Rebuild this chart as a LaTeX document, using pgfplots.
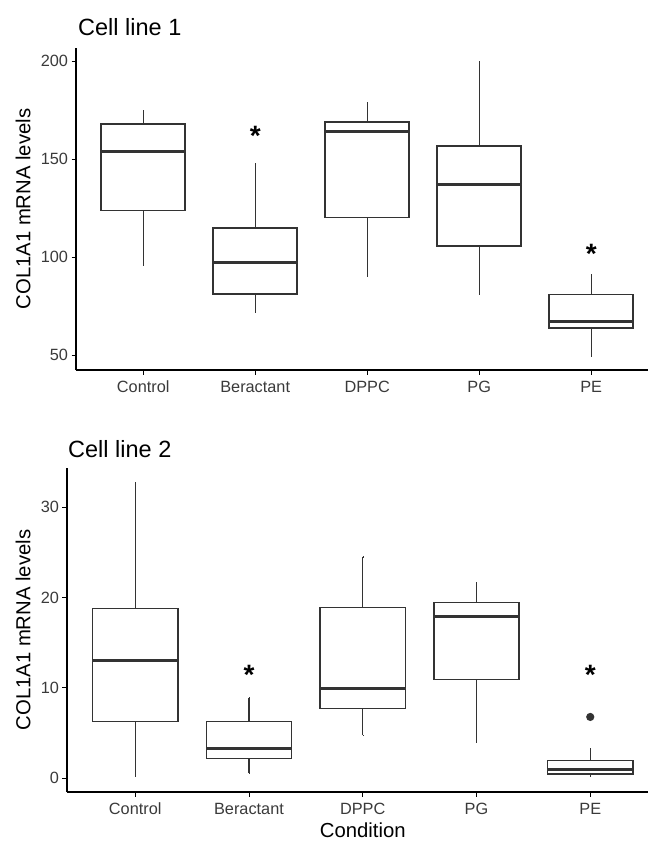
\documentclass[border=0pt]{standalone}
\usepackage{fontspec}
\setmainfont{Liberation Sans}
\usepackage{pgfplots}
\pgfplotsset{compat=1.18}
\usepgfplotslibrary{statistics}
\definecolor{boxgrey}{HTML}{333333}
\definecolor{tickgrey}{HTML}{3A3A3A}

\pgfplotsset{
  cellpanel/.style={
    scale only axis,
    axis lines=left,
    axis line style={-, line width=1.1pt, black},
    xmin=0.4, xmax=5.6,
    xtick={1,2,3,4,5},
    xticklabels={Control,Beractant,DPPC,PG,PE},
    tick align=outside,
    major tick length=4.5pt,
    tick style={line width=1.0pt, black},
    /pgf/number format/assume math mode=true,
    ticklabel style={font=\fontsize{16.3}{18}\selectfont, text=tickgrey},
    xticklabel style={yshift=-3pt},
    ylabel={COL1A1 mRNA levels},
    label style={font=\fontsize{20.3}{22}\selectfont},
    ylabel style={at={(axis description cs:0,0.5)}, anchor=center},
    boxplot/draw direction=y,
    boxplot/box extend=0.75,
    boxplot/whisker extend=0.001,
    boxplot/every median/.style={line width=3pt},
    boxplot/every whisker/.style={line width=1.2pt},
    boxplot/every box/.style={line width=1.5pt},
  },
  cellbox/.style={draw=boxgrey, fill=white, solid, line width=1.5pt,
    mark=*, mark size=3.3pt, mark options={fill=boxgrey, draw=boxgrey}},
  stars/.style={only marks, mark=none, nodes near coords={\bfseries *},
    every node near coord/.append style={anchor=center, yshift=-2pt,
      font=\fontsize{28}{28}\selectfont, text=black}},
}

\begin{document}
\begin{tikzpicture}
\useasboundingbox (0,0) rectangle (648pt,-841pt);
\clip (0,0) rectangle (648pt,-841pt);

% Cell line 1
\begin{axis}[cellpanel,
  at={(76pt,-48pt)}, anchor=north west,
  width=582.4pt, height=322pt,
  ymin=42.5, ymax=206.8,
  ytick={50,100,150,200},
  ylabel style={yshift=53pt},
  title={Cell line 1},
  title style={at={(axis description cs:0,1)}, anchor=base west, inner sep=0pt,
    xshift=2pt, yshift=7pt, font=\fontsize{23.5}{26}\selectfont},
]
\addplot[cellbox, boxplot prepared={draw position=1, lower whisker=96.0,
  lower quartile=123.8, median=154.0, upper quartile=168.0, upper whisker=174.9}]
  coordinates {};
\addplot[cellbox, boxplot prepared={draw position=2, lower whisker=71.8,
  lower quartile=81.2, median=97.2, upper quartile=114.9, upper whisker=147.7}]
  coordinates {};
\addplot[cellbox, boxplot prepared={draw position=3, lower whisker=90.4,
  lower quartile=120.4, median=164.0, upper quartile=169.1, upper whisker=178.9}]
  coordinates {};
\addplot[cellbox, boxplot prepared={draw position=4, lower whisker=81.2,
  lower quartile=105.7, median=136.9, upper quartile=156.9, upper whisker=199.7}]
  coordinates {};
\addplot[cellbox, boxplot prepared={draw position=5, lower whisker=49.3,
  lower quartile=64.0, median=67.2, upper quartile=81.0, upper whisker=91.4}]
  coordinates {};
\addplot[stars] coordinates {(2,163) (5,103)};
\end{axis}

% Cell line 2
\begin{axis}[cellpanel,
  at={(67pt,-468pt)}, anchor=north west,
  width=591.5pt, height=324pt,
  ymin=-1.52, ymax=34.35,
  ytick={0,10,20,30},
  ylabel style={yshift=44pt},
  xlabel={Condition},
  xlabel style={yshift=-1pt},
  title={Cell line 2},
  title style={at={(axis description cs:0,1)}, anchor=base west, inner sep=0pt,
    xshift=1pt, yshift=4.5pt, font=\fontsize{23.5}{26}\selectfont},
]
\addplot[cellbox, boxplot prepared={draw position=1, lower whisker=0.26,
  lower quartile=6.27, median=13.0, upper quartile=18.8, upper whisker=32.7}]
  coordinates {};
\addplot[cellbox, boxplot prepared={draw position=2, lower whisker=0.55,
  lower quartile=2.21, median=3.25, upper quartile=6.31, upper whisker=8.93}]
  coordinates {};
\addplot[cellbox, boxplot prepared={draw position=3, lower whisker=4.76,
  lower quartile=7.71, median=9.93, upper quartile=18.9, upper whisker=24.5}]
  coordinates {};
\addplot[cellbox, boxplot prepared={draw position=4, lower whisker=3.95,
  lower quartile=10.96, median=17.86, upper quartile=19.45, upper whisker=21.7}]
  coordinates {};
\addplot[cellbox, boxplot prepared={draw position=5, lower whisker=0.18,
  lower quartile=0.48, median=0.92, upper quartile=1.96, upper whisker=3.32}]
  coordinates {(5,6.79)};
\addplot[stars] coordinates {(2,11.7) (5,11.7)};
\end{axis}
\end{tikzpicture}
\end{document}
